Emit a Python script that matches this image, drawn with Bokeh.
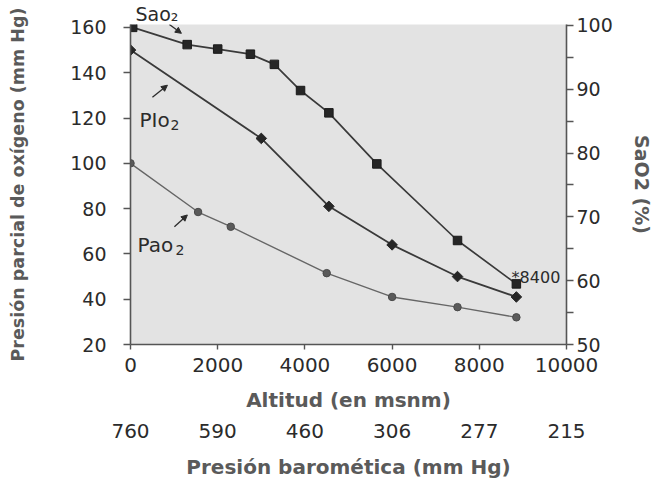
from bokeh.plotting import figure
from bokeh.models import (Range1d, LinearAxis, FixedTicker, Label, Arrow, NormalHead)
from bokeh.embed import file_html
from bokeh.resources import INLINE

# ---- data ----
sao2_alt = [50, 1300, 2000, 2750, 3300, 3900, 4550, 5650, 7500, 8850]
sao2_pct = [99.7, 97.0, 96.3, 95.5, 93.9, 89.8, 86.3, 78.3, 66.3, 59.5]

pio2_alt = [0, 3000, 4550, 6000, 7500, 8850]
pio2_mmhg = [150, 111, 81, 64, 50, 41]

pao2_alt = [0, 1550, 2300, 4500, 6000, 7500, 8850]
pao2_mmhg = [100, 78.5, 72, 51.5, 41, 36.5, 32]

alt_ticks = [0, 2000, 4000, 6000, 8000, 10000]
pressure_labels = ["760", "590", "460", "306", "277", "215"]
left_ticks = [20, 40, 60, 80, 100, 120, 140, 160]
right_ticks = [50, 60, 70, 80, 90, 100]
right_minor = [55, 65, 75, 85, 95]

TICK_FONT = "DejaVu Sans"
LABEL_FONT = "DejaVu Sans"
DARK = "#2b2b2b"
LABEL_COL = "#5a5a5a"
AXIS_COL = "#555555"

p = figure(width=655, height=481, x_range=Range1d(0, 10000), y_range=Range1d(20, 161.3),
           output_backend="svg", toolbar_location=None,
           min_border_left=130, min_border_right=88, min_border_top=24, min_border_bottom=136)
p.extra_y_ranges = {"sat": Range1d(50, 100.15)}
p.background_fill_color = "#e3e3e3"
p.border_fill_color = "white"
p.outline_line_color = None
p.grid.visible = False

# series label above the plot area (SaO2), placed as the title
p.title.text = "Sao₂"
p.title.align = "left"
p.title.offset = 5
p.title.standoff = 0
p.title.text_font = TICK_FONT
p.title.text_font_size = "19px"
p.title.text_font_style = "normal"
p.title.text_color = DARK

def style_axis(ax, tick_out=7, standoff=4, size="19px"):
    ax.axis_line_color = AXIS_COL
    ax.axis_line_width = 1.6
    ax.major_tick_line_color = AXIS_COL
    ax.major_tick_line_width = 1.4
    ax.major_tick_in = 0
    ax.major_tick_out = tick_out
    ax.minor_tick_line_color = None
    ax.major_label_text_font = TICK_FONT
    ax.major_label_text_font_size = size
    ax.major_label_text_color = DARK
    ax.major_label_standoff = standoff
    ax.axis_label_text_font = LABEL_FONT
    ax.axis_label_text_font_style = "bold"
    ax.axis_label_text_color = LABEL_COL

# bottom altitude axis
xa = p.xaxis[0]
xa.ticker = FixedTicker(ticks=alt_ticks)
style_axis(xa, tick_out=5, standoff=8, size="20px")
xa.axis_label = "Altitud (en msnm)"
xa.axis_label_text_font_size = "20px"
xa.axis_label_standoff = 13

# left axis
ya = p.yaxis[0]
ya.ticker = FixedTicker(ticks=left_ticks)
style_axis(ya, tick_out=7, standoff=17)
ya.axis_label = "Presión parcial de oxígeno (mm Hg)"
ya.axis_label_text_font_size = "17.5px"
ya.axis_label_standoff = 39

# right axis
ra = LinearAxis(y_range_name="sat", ticker=FixedTicker(ticks=right_ticks, minor_ticks=right_minor))
style_axis(ra, tick_out=7, standoff=3)
ra.minor_tick_line_color = AXIS_COL
ra.minor_tick_line_width = 1.4
ra.minor_tick_in = 0
ra.minor_tick_out = 7
ra.axis_label = "SaO2 (%)"
ra.axis_label_text_font_size = "19px"
ra.axis_label_standoff = 15
p.add_layout(ra, "right")

# second bottom axis: barometric pressure
pa = LinearAxis(ticker=FixedTicker(ticks=alt_ticks),
                major_label_overrides={t: s for t, s in zip(alt_ticks, pressure_labels)})
style_axis(pa, tick_out=0, standoff=9, size="20px")
pa.axis_line_color = None
pa.major_tick_line_color = None
pa.axis_label = "Presión baromética (mm Hg)"
pa.axis_label_text_font_size = "20px"
pa.axis_label_standoff = 14
p.add_layout(pa, "below")

# series
p.line(pao2_alt, pao2_mmhg, line_color="#666666", line_width=1.4)
p.scatter(pao2_alt, pao2_mmhg, marker="circle", size=7.5, fill_color="#5a5a5a",
          line_color="#4a4a4a")

p.line(pio2_alt, pio2_mmhg, line_color="#3a3a3a", line_width=1.8)
p.scatter(pio2_alt, pio2_mmhg, marker="square", angle=0.785398, size=7.5,
          fill_color="#262626", line_color="#262626")

p.line(sao2_alt, sao2_pct, y_range_name="sat", line_color="#3a3a3a", line_width=1.7)
p.scatter(sao2_alt, sao2_pct, y_range_name="sat", marker="square", size=8.5,
          fill_color="#262626", line_color="#1a1a1a")

# series labels with subscripts
def lab(x, y, text, size):
    p.add_layout(Label(x=x, y=y, text=text, text_font=TICK_FONT, text_font_size=size,
                       text_color=DARK, text_baseline="alphabetic", text_align="left"))

lab(206, 119.1, "PIo", "20px")
lab(915, 116.9, "2", "14px")
lab(160, 64.0, "Pao", "20px")
lab(1030, 61.8, "2", "14px")
lab(8741, 49.5, "*8400", "16px")

def arrow(x0, y0, x1, y1):
    p.add_layout(Arrow(end=NormalHead(size=6, fill_color=DARK, line_color=DARK),
                       x_start=x0, y_start=y0, x_end=x1, y_end=y1,
                       line_color=DARK, line_width=1.3))

arrow(892, 161.3, 1167, 157.4)
arrow(503, 129.2, 847, 134.5)
arrow(1007, 72.0, 1304, 77.2)

open("out.html", "w").write(file_html(p, INLINE))
